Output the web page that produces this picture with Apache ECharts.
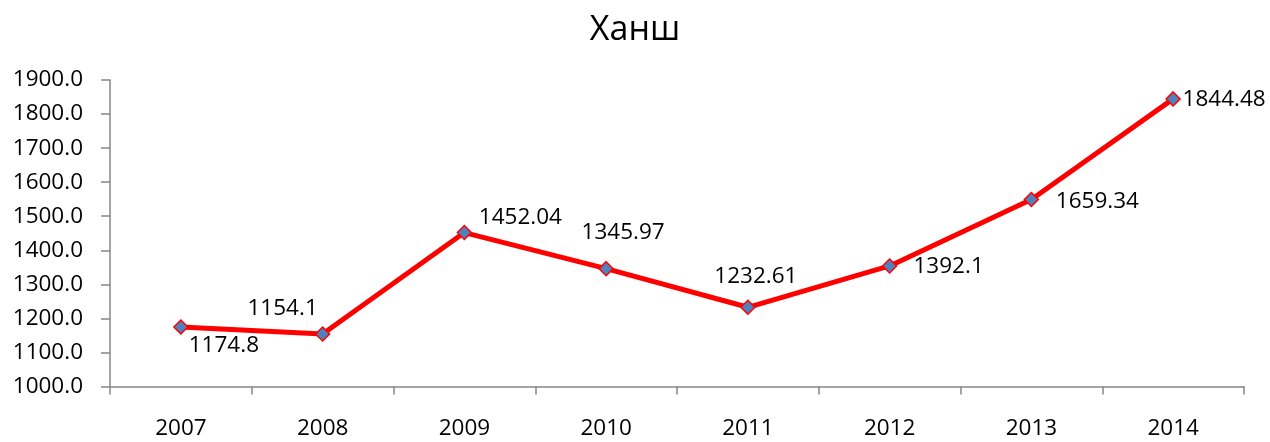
<!DOCTYPE html>
<html>
<head>
<meta charset="utf-8">
<script src="https://cdn.jsdelivr.net/npm/echarts@6/dist/echarts.min.js"></script>
<style>html,body{margin:0;padding:0;background:#fff;}#c{width:1270px;height:442px;}</style>
</head>
<body>
<div id="c"></div>
<script>
const categories = ['2007','2008','2009','2010','2011','2012','2013','2014'];
const values = [1174.8, 1154.1, 1452.04, 1345.97, 1232.61, 1354, 1549, 1844.48];
const labelTexts = ['1174.8','1154.1','1452.04','1345.97','1232.61','1392.1','1659.34','1844.48'];
const labelOffsets = [[43,19],[-40,-25],[56,-15],[17,-36],[8,-31],[59,1],[66,2],[51,1]];

const FONT = 'Open Sans';
const chart = echarts.init(document.getElementById('c'), null, {renderer:'canvas'});
chart.setOption({
  backgroundColor: '#fff',
  animation: false,
  title: {
    text: 'Ханш', left: 'center', top: 8,
    textStyle: {fontFamily: FONT, fontSize: 34, fontWeight: 'normal', color: '#000'}
  },
  grid: {left: 110, right: 26, top: 80, bottom: 55.5, containLabel: false},
  xAxis: {
    type: 'category', data: categories, boundaryGap: true,
    axisLine: {lineStyle: {color: '#868686', width: 1.5}},
    axisTick: {show: true, length: 8, lineStyle: {color: '#868686', width: 1.5}},
    axisLabel: {fontFamily: FONT, fontSize: 22.5, color: '#000', margin: 31},
    splitLine: {show: false}
  },
  yAxis: {
    type: 'value', min: 1000, max: 1900, interval: 100,
    axisLine: {show: true, lineStyle: {color: '#868686', width: 1.5}},
    axisTick: {show: true, length: 9, lineStyle: {color: '#868686', width: 1.5}},
    axisLabel: {fontFamily: FONT, fontSize: 22.5, color: '#000', margin: 27,
      formatter: v => v.toFixed(1)},
    splitLine: {show: false}
  },
  series: [{
    type: 'line',
    data: values.map((v, i) => ({
      value: v,
      label: {show: true, position: 'inside', offset: labelOffsets[i],
        formatter: () => labelTexts[i]}
    })),
    symbol: 'diamond', symbolSize: 14,
    itemStyle: {color: '#4F81BD', borderColor: '#FF0000', borderWidth: 1.5},
    lineStyle: {color: '#FF0000', width: 5},
    label: {fontFamily: FONT, fontSize: 22.5, color: '#000'},
    z: 3
  }]
});
</script>
</body>
</html>
